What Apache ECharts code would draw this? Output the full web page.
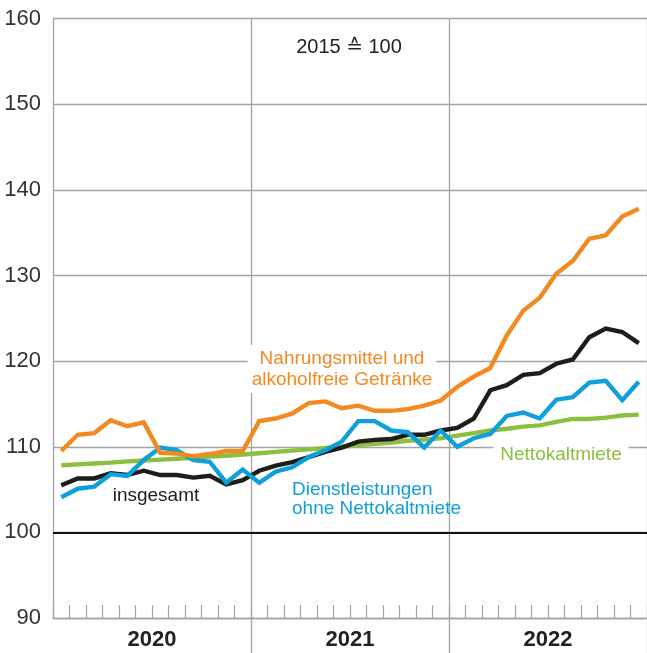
<!DOCTYPE html>
<html><head><meta charset="utf-8">
<script src="https://cdn.jsdelivr.net/npm/echarts@6/dist/echarts.min.js"></script>
<style>html,body{margin:0;padding:0;background:#fff}#c{width:647px;height:653px}</style>
</head><body><div id="c"></div>
<script>
const years = ["2020", "2021", "2022"];
const monthNames = ["Jan","Feb","Mär","Apr","Mai","Jun","Jul","Aug","Sep","Okt","Nov","Dez"];
const yTicks = [90, 100, 110, 120, 130, 140, 150, 160];

const insgesamt = [
  105.5, 106.3, 106.3, 106.9, 106.7, 107.2, 106.7, 106.7, 106.4, 106.6, 105.6, 106.1,
  107.2, 107.8, 108.2, 108.8, 109.4, 109.9, 110.6, 110.8, 110.9, 111.4, 111.4, 111.9,
  112.2, 113.3, 116.6, 117.2, 118.4, 118.6, 119.7, 120.2, 122.8, 123.8, 123.4, 122.1
];
const nahrungsmittel = [
  109.5, 111.4, 111.6, 113.1, 112.4, 112.85, 109.3, 109.2, 108.9, 109.15, 109.5, 109.5,
  113.0, 113.3, 113.9, 115.1, 115.3, 114.5, 114.8, 114.2, 114.2, 114.4, 114.8, 115.4,
  117.0, 118.2, 119.2, 123.0, 125.9, 127.4, 130.2, 131.7, 134.3, 134.7, 136.9, 137.8
];
const dienstleistungen = [
  104.1, 105.1, 105.35, 106.8, 106.6, 108.45, 109.9, 109.6, 108.45, 108.25, 105.8, 107.35,
  105.8, 107.1, 107.6, 108.8, 109.6, 110.6, 113.0, 113.0, 111.9, 111.7, 109.9, 111.9,
  110.0, 111.0, 111.5, 113.6, 114.0, 113.3, 115.5, 115.8, 117.5, 117.7, 115.45, 117.6
];
const nettokaltmiete = [
  107.85, 107.95, 108.05, 108.15, 108.3, 108.4, 108.5, 108.6, 108.7, 108.85, 108.95, 109.1,
  109.25, 109.4, 109.55, 109.7, 109.85, 110.0, 110.2, 110.35, 110.5, 110.7, 110.85, 111.0,
  111.3, 111.6, 111.9, 112.1, 112.35, 112.5, 112.9, 113.25, 113.25, 113.4, 113.65, 113.75
];

const categories = [];
years.forEach(y => monthNames.forEach(m => categories.push(m + " " + y)));

const FONT = '"Liberation Sans", Arial, "DejaVu Sans", sans-serif';
const GRID = '#a3a3a3';

const chart = echarts.init(document.getElementById('c'), null, {renderer: 'canvas'});
const lineSeries = (name, data, color, z) => ({
  name, type: 'line', data, xAxisIndex: 0, yAxisIndex: 0,
  symbol: 'none', smooth: false, z,
  lineStyle: {color, width: 4.4, cap: 'butt', join: 'miter'},
  emphasis: {disabled: true}
});

chart.setOption({
  animation: false,
  backgroundColor: '#fff',
  grid: {left: 53, right: 0, top: 18.7, bottom: 35, containLabel: false},
  xAxis: [
    {
      type: 'category', data: categories, boundaryGap: true, position: 'bottom',
      axisLine: {show: true, lineStyle: {color: GRID, width: 1.3}},
      axisTick: {show: true, inside: true, length: 13, interval: 0, lineStyle: {color: GRID, width: 1.2}},
      axisLabel: {show: false},
      splitLine: {show: true, interval: (i) => i % 12 === 0, lineStyle: {color: GRID, width: 1.3}}
    },
    {
      type: 'category', data: years, boundaryGap: true, position: 'bottom',
      axisLine: {show: false},
      axisTick: {show: true, length: 35, interval: (i) => i > 0, lineStyle: {color: GRID, width: 1.3}},
      axisLabel: {show: true, fontFamily: FONT, fontSize: 22, fontWeight: 'bold', color: '#222', margin: 11},
      splitLine: {show: false}
    }
  ],
  yAxis: {
    type: 'value', min: yTicks[0], max: yTicks[yTicks.length - 1], interval: 10,
    axisLine: {show: false}, axisTick: {show: false},
    axisLabel: {fontFamily: FONT, fontSize: 22, color: '#333', margin: 12},
    splitLine: {show: true, lineStyle: {color: GRID, width: 1.3}}
  },
  series: [
    Object.assign(lineSeries('Nettokaltmiete', nettokaltmiete, '#8cbf3f', 3), {
      markLine: {
        silent: true, symbol: 'none', label: {show: false},
        lineStyle: {color: '#111', width: 2, type: 'solid'},
        data: [{yAxis: 100}]
      }
    }),
    lineSeries('insgesamt', insgesamt, '#1d1d1b', 4),
    lineSeries('Dienstleistungen ohne Nettokaltmiete', dienstleistungen, '#0f9fd9', 5),
    lineSeries('Nahrungsmittel und alkoholfreie Getränke', nahrungsmittel, '#f28a22', 6)
  ],
  graphic: [
    {type: 'text', x: 349, y: 47, z: 100,
     style: {text: '2015 ≙ 100', font: '20px ' + FONT, fill: '#222', align: 'center', verticalAlign: 'middle'}},
    {type: 'text', x: 342, y: 369, z: 100,
     style: {text: 'Nahrungsmittel und\nalkoholfreie Getränke', font: '19px ' + FONT, lineHeight: 21,
             fill: '#f28a22', align: 'center', verticalAlign: 'middle',
             backgroundColor: '#fff', padding: [3, 4]}},
    {type: 'text', x: 561, y: 455, z: 100,
     style: {text: 'Nettokaltmiete', font: '19px ' + FONT, fill: '#8cbf3f', align: 'center', verticalAlign: 'middle',
             backgroundColor: '#fff', padding: [2, 7]}},
    {type: 'text', x: 292, y: 499, z: 100,
     style: {text: 'Dienstleistungen\nohne Nettokaltmiete', font: '19px ' + FONT, lineHeight: 19,
             fill: '#0f9fd9', align: 'left', verticalAlign: 'middle'}},
    {type: 'text', x: 156, y: 496, z: 100,
     style: {text: 'insgesamt', font: '19px ' + FONT, fill: '#1d1d1b', align: 'center', verticalAlign: 'middle'}}
  ]
});
</script>
</body></html>
